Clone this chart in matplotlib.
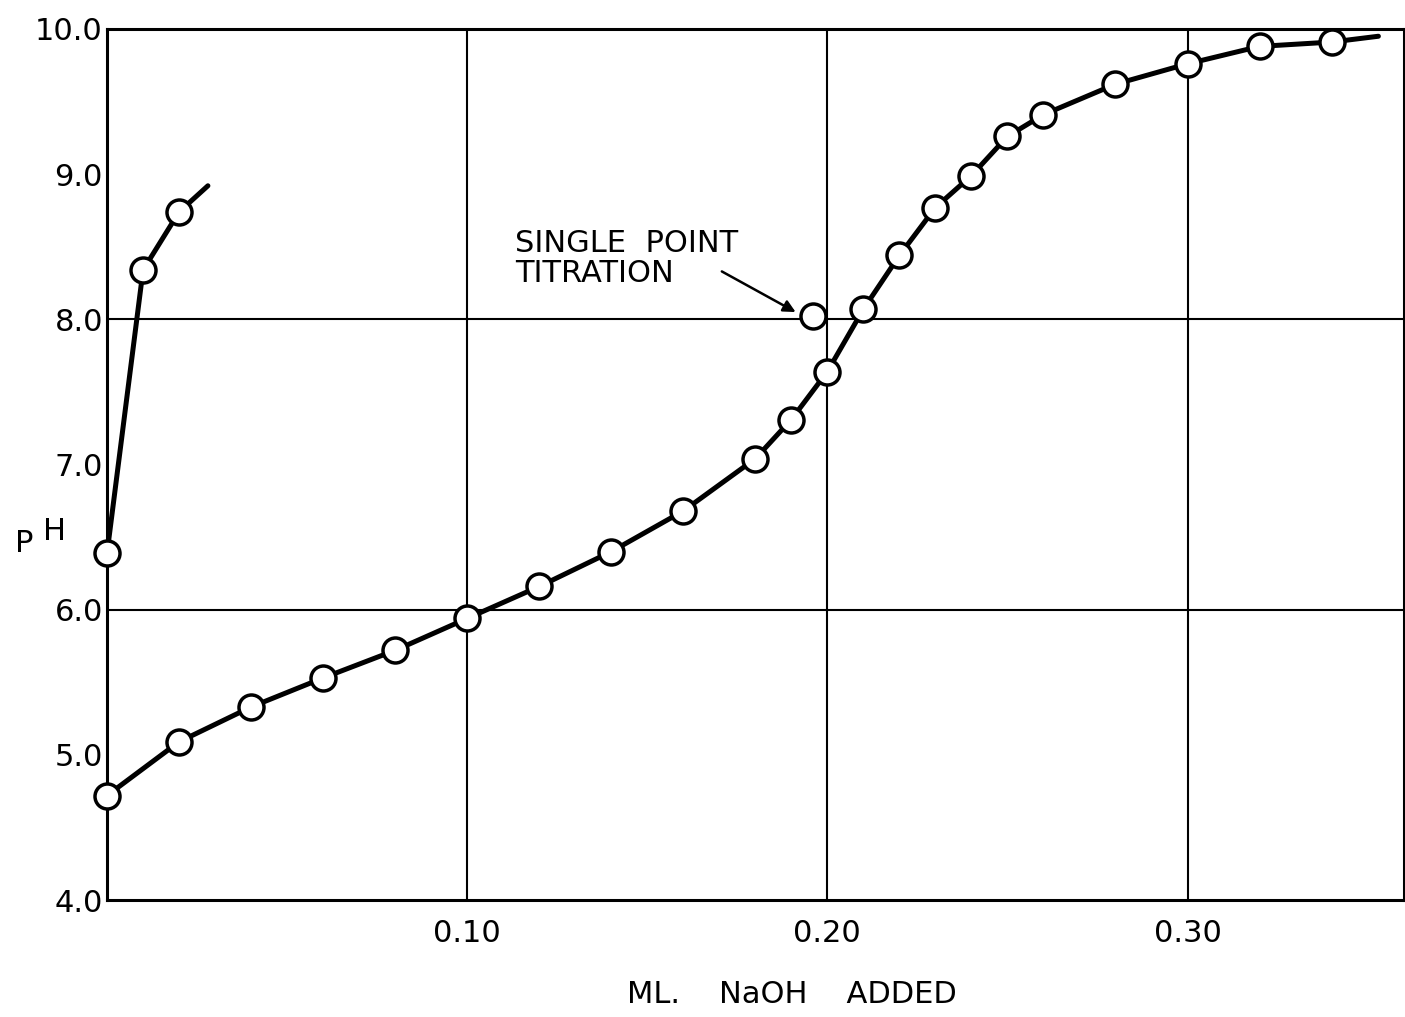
import matplotlib
matplotlib.use("Agg")
import matplotlib.pyplot as plt

# main titration curve (ml NaOH, pH)
ml_main = [0.0, 0.02, 0.04, 0.06, 0.08, 0.10, 0.12, 0.14, 0.16, 0.18, 0.19,
           0.20, 0.21, 0.22, 0.23, 0.24, 0.25, 0.26, 0.28, 0.30, 0.32, 0.34]
ph_main = [4.72, 5.09, 5.33, 5.53, 5.72, 5.94, 6.16, 6.40, 6.68, 7.04, 7.31,
           7.64, 8.07, 8.44, 8.77, 8.99, 9.26, 9.41, 9.62, 9.76, 9.88, 9.91]
# where the drawn line runs on past the last point
ml_main_end = 0.353
ph_main_end = 9.95

# steep curve at the left
ml_left = [0.0, 0.01, 0.02]
ph_left = [6.39, 8.34, 8.74]
ml_left_end = 0.028
ph_left_end = 8.92

# single point titration
ml_single = 0.196
ph_single = 8.02

x_ticks = [0.10, 0.20, 0.30]
x_ticklabels = ["0.10", "0.20", "0.30"]
y_ticks = [4.0, 5.0, 6.0, 7.0, 8.0, 9.0, 10.0]
x_grid = [0.10, 0.20, 0.30]
y_grid = [6.0, 8.0]

plt.rcParams['font.family'] = ['DejaVu Sans']

fig = plt.figure(figsize=(14.05, 10.17), dpi=100)
ax = fig.add_axes([0.0762, 0.115, 0.9228, 0.8565])

for gx in x_grid:
    ax.axvline(gx, color='black', linewidth=1.5, zorder=1)
for gy in y_grid:
    ax.axhline(gy, color='black', linewidth=1.5, zorder=1)

circle = dict(linestyle='none', marker='o', markersize=18, markerfacecolor='white',
              markeredgecolor='black', markeredgewidth=2.5, zorder=3, clip_on=False)

ax.plot(ml_main + [ml_main_end], ph_main + [ph_main_end], color='black',
        linewidth=3.6, solid_capstyle='round', zorder=2)
ax.plot(ml_main, ph_main, **circle)

ax.plot(ml_left + [ml_left_end], ph_left + [ph_left_end], color='black',
        linewidth=3.6, solid_capstyle='round', zorder=2)
ax.plot(ml_left, ph_left, **circle)

ax.plot([ml_single], [ph_single], **circle)

ax.text(0.1132, 8.62, "SINGLE  POINT\nTITRATION", fontsize=22, ha='left', va='top',
        linespacing=1.05)
ax.annotate("", xy=(0.1912, 8.05), xytext=(0.1707, 8.33),
            arrowprops=dict(arrowstyle='-|>', color='black', linewidth=1.8,
                            mutation_scale=18, shrinkA=0, shrinkB=0))

ax.set_xlim(0, 0.36)
ax.set_ylim(4.0, 10.0)
ax.set_xticks(x_ticks)
ax.set_xticklabels(x_ticklabels)
ax.set_yticks(y_ticks)
ax.set_yticklabels([f"{v:.1f}" for v in y_ticks])
ax.tick_params(length=0, labelsize=22)
ax.tick_params(axis='x', pad=14)
ax.tick_params(axis='y', pad=3)
for s in ax.spines.values():
    s.set_linewidth(2.2)

fig.text(0.5637, 0.014, "ML.    NaOH    ADDED", fontsize=22, ha='center', va='baseline')
fig.text(0.0107, 0.457, "P", fontsize=22, ha='left', va='baseline')
fig.text(0.0306, 0.469, "H", fontsize=22, ha='left', va='baseline')

fig.savefig("out.png", dpi=100, facecolor='white')
